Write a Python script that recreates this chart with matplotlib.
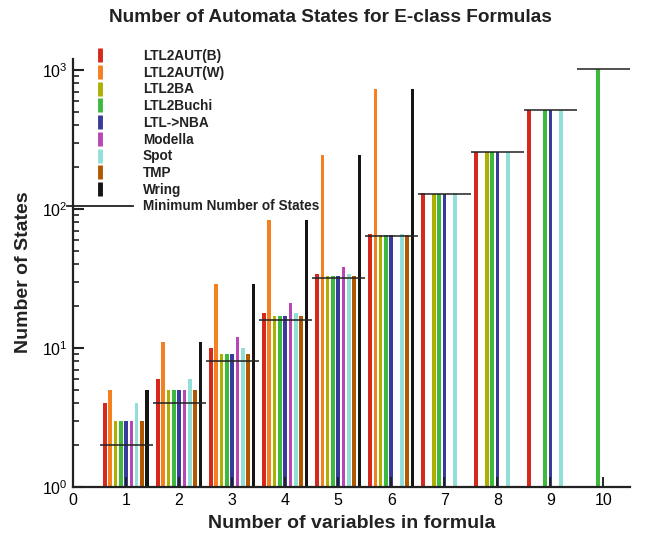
import numpy as np
import matplotlib
matplotlib.use("Agg")
import matplotlib.pyplot as plt
from matplotlib.lines import Line2D
from matplotlib.ticker import FixedLocator, NullFormatter

plt.rcParams['font.family'] = ['Liberation Sans', 'DejaVu Sans']
plt.rcParams['mathtext.fontset'] = 'custom'
plt.rcParams['mathtext.rm'] = 'Liberation Sans'
plt.rcParams['mathtext.it'] = 'Liberation Sans'
plt.rcParams['mathtext.bf'] = 'Liberation Sans:bold'

nan = np.nan
variables = [1, 2, 3, 4, 5, 6, 7, 8, 9, 10]
series_names = ["LTL2AUT(B)", "LTL2AUT(W)", "LTL2BA", "LTL2Buchi", "LTL->NBA",
                "Modella", "Spot", "TMP", "Wring"]
ltl2aut_b = [4, 6, 10, 18, 34, 66, 130, 258, 514, nan]
ltl2aut_w = [5, 11, 29, 83, 245, 731, nan, nan, nan, nan]
ltl2ba = [3, 5, 9, 17, 33, 65, 129, 257, nan, nan]
ltl2buchi = [3, 5, 9, 17, 33, 65, 129, 257, 513, 1025]
ltl_nba = [3, 5, 9, 17, 33, 65, 129, 257, 513, nan]
modella = [3, 5, 12, 21, 38, nan, nan, nan, nan, nan]
spot = [4, 6, 10, 18, 34, 66, 130, 258, 514, nan]
tmp = [3, 5, 9, 17, 33, 65, nan, nan, nan, nan]
wring = [5, 11, 29, 83, 245, 731, nan, nan, nan, nan]
minimum_states = [2, 4, 8, 16, 32, 64, 128, 256, 512, 1024]

series_values = [ltl2aut_b, ltl2aut_w, ltl2ba, ltl2buchi, ltl_nba, modella, spot, tmp, wring]
colors = ["#d7281e", "#f4801f", "#adb000", "#3dba3d", "#383b9b", "#b847b3",
          "#92dfda", "#b05800", "#151515"]

W, H = 653, 535
fig = plt.figure(figsize=(W / 100, H / 100), dpi=100)
ax = fig.add_axes([73 / W, (H - 487) / H, (630 - 73) / W, (487 - 59) / H])

x = np.array(variables, dtype=float)
step = 0.1
bw = 0.068
base = 1.0
for i, (vals, c) in enumerate(zip(series_values, colors)):
    v = np.array(vals, dtype=float)
    ax.bar(x + (i - 4) * step, v - base, width=bw, color=c, bottom=base,
           align='center', zorder=1)
ax.hlines(minimum_states, x - 0.5, x + 0.5, color="#222222", lw=1.3, alpha=0.85,
          zorder=3)

ax.set_yscale('log')
ax.set_ylim(1, 1200)
ax.set_xlim(0, 10.5)
ax.set_xticks(range(0, 11))
ax.set_xticklabels([str(i) for i in range(0, 11)], fontsize=11.5)
major_y = [1, 10, 100, 1000]
minor_y = [m * 10 ** d for d in range(0, 3) for m in range(2, 10)]
ax.yaxis.set_major_locator(FixedLocator(major_y))
ax.yaxis.set_minor_locator(FixedLocator(minor_y))
ax.yaxis.set_minor_formatter(NullFormatter())
ax.set_yticklabels([r'$10^{0}$', r'$10^{1}$', r'$10^{2}$', r'$10^{3}$'], fontsize=11.5)

for s in ['top', 'right']:
    ax.spines[s].set_visible(False)
for s in ['left', 'bottom']:
    ax.spines[s].set_linewidth(1.6)
    ax.spines[s].set_color('#222222')
ax.tick_params(axis='y', which='major', direction='in', length=8, width=1.5,
               color='#222222', pad=4)
ax.tick_params(axis='y', which='minor', direction='in', length=4.5, width=1.3,
               color='#333333', left=True)
ax.tick_params(axis='x', which='major', direction='in', length=7, width=1.4,
               color='#222222', pad=4)
ax.xaxis.get_major_ticks()[0].tick1line.set_visible(False)

fig.text(330 / W, 1 - 18 / H, "Number of Automata States for E-class Formulas",
         ha='center', va='center', fontsize=13.7, fontweight='bold', color='#222222')
fig.text((73 + 630) / 2 / W, 1 - 523 / H, "Number of variables in formula",
         ha='center', va='center', fontsize=14, fontweight='bold', color='#222222')
fig.text(24 / W, 1 - 272 / H, "Number of States", rotation=90,
         ha='center', va='center', fontsize=14, fontweight='bold', color='#222222')

handles = [Line2D([], [], color=c, marker='|', linestyle='None', markersize=10,
                  markeredgewidth=3.5) for c in colors]
handles.append(Line2D([], [], color='#222222', lw=1.3))
labels = series_names + ["Minimum Number of States"]
fs = 9.8
fspx = fs * 100 / 72
leg = ax.legend(handles, labels, loc='upper left', frameon=False,
                bbox_to_anchor=(67 / W, 1 - 49 / H), bbox_transform=fig.transFigure,
                borderpad=0, borderaxespad=0, handlelength=66 / fspx,
                handletextpad=10 / fspx, labelspacing=0.2,
                prop={'weight': 'bold', 'size': fs})
for t in leg.get_texts():
    t.set_color('#222222')

fig.savefig("out.png", dpi=100)
